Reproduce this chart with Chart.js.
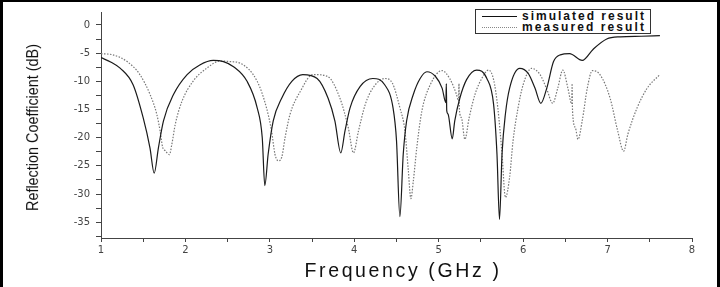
<!DOCTYPE html>
<html>
<head>
<meta charset="utf-8">
<script src="https://cdn.jsdelivr.net/npm/chart.js@4/dist/chart.umd.min.js"></script>
<style>
  html, body { margin: 0; padding: 0; background: #fff; }
  #wrap { position: relative; width: 720px; height: 287px; overflow: hidden; }
  #c { position: absolute; left: 0; top: 0; }
  #frame { position: absolute; left: 0; top: 0; width: 720px; height: 287px; box-sizing: border-box;
           border-top: 2px solid #000; border-left: 3px solid #000; border-right: 3px solid #000; pointer-events: none; }
  #legend { position: absolute; left: 475px; top: 9px; width: 176px; height: 25px; box-sizing: border-box;
            border: 1px solid #333; background: #fff; font-family: "Liberation Sans", Arial, sans-serif;
            font-weight: bold; font-size: 12px; color: #111; }
  .sample { position: absolute; left: 6px; width: 35px; height: 0; }
  .txt { position: absolute; left: 46px; line-height: 12px; white-space: nowrap; }
  #ytitle { position: absolute; left: 33px; top: 127px; font-family: "Liberation Sans", Arial, sans-serif;
            font-size: 17px; line-height: 17px; color: #111; white-space: nowrap; }
  #xtitle { position: absolute; top: 261px; font-family: "Liberation Sans", Arial, sans-serif;
            font-size: 19.5px; line-height: 19.5px; color: #111; white-space: nowrap; }
</style>
</head>
<body>
<div id="wrap">
  <canvas id="c" width="720" height="287"></canvas>
  <div id="legend">
    <span class="sample" style="top:6px;border-top:1px solid #111"></span><span class="txt" id="l1" style="top:0px">simulated result</span>
    <span class="sample" style="top:17px;border-top:1px dotted #888"></span><span class="txt" id="l2" style="top:11px">measured result</span>
  </div>
  <div id="ytitle">Reflection Coefficient (dB)</div>
  <div id="xtitle">Frequency (GHz )</div>
  <div id="frame"></div>
</div>
<script>
// ---- data ----
const simFreq = [1.00, 1.12, 1.23, 1.38, 1.50, 1.58, 1.63, 1.68, 1.74, 1.86, 2.02, 2.17, 2.33,
  2.45, 2.57, 2.73, 2.85, 2.91, 2.94, 2.98, 3.04, 3.14, 3.26, 3.39, 3.56, 3.69, 3.77, 3.84,
  3.89, 3.95, 4.07, 4.22, 4.36, 4.46, 4.50, 4.54, 4.58, 4.62, 4.70, 4.78, 4.86, 4.96, 5.04,
  5.085, 5.090, 5.095, 5.11, 5.16, 5.19, 5.25, 5.33, 5.45, 5.57, 5.65, 5.69, 5.72, 5.75, 5.79,
  5.84, 5.96, 6.06, 6.14, 6.21, 6.28, 6.36, 6.44, 6.55, 6.70, 6.83, 6.99, 7.15, 7.40, 7.62];
const simDb = [-5.8, -6.6, -7.7, -10.6, -16.5, -21.8, -26.3, -21.8, -17.0, -12.3, -8.8, -7.1, -6.3,
  -6.5, -7.4, -10.0, -14.7, -20.0, -28.5, -22.9, -17.0, -13.0, -10.0, -8.8, -9.5, -13.0, -17.0, -22.7,
  -18.8, -14.7, -10.9, -9.5, -10.6, -14.8, -20.5, -34.0, -22.9, -17.0, -12.3, -9.5, -8.3, -9.1, -11.2,
  -13.8, -10.4, -15.2, -15.8, -20.2, -17.0, -13.0, -9.7, -8.0, -9.5, -14.1, -22.9, -34.5, -22.9, -15.8,
  -11.2, -7.7, -8.6, -11.2, -13.9, -11.2, -6.5, -5.3, -5.1, -6.3, -4.3, -2.5, -2.1, -2.0, -1.9];

const measFreq = [1.00, 1.14, 1.31, 1.46, 1.58, 1.66, 1.70, 1.73, 1.76, 1.81, 1.84, 1.88, 1.96,
  2.09, 2.25, 2.41, 2.53, 2.65, 2.85, 2.96, 3.02, 3.06, 3.10, 3.14, 3.18, 3.24, 3.36, 3.51,
  3.68, 3.83, 3.93, 3.99, 4.05, 4.13, 4.22, 4.36, 4.45, 4.54, 4.60, 4.64, 4.67, 4.70, 4.74,
  4.80, 4.90, 5.04, 5.13, 5.21, 5.235, 5.240, 5.245, 5.27, 5.31, 5.36, 5.43, 5.51, 5.59, 5.65,
  5.70, 5.75, 5.79, 5.84, 5.88, 5.94, 6.00, 6.10, 6.20, 6.28, 6.35, 6.41, 6.47, 6.53, 6.575,
  6.580, 6.585, 6.62, 6.65, 6.70, 6.76, 6.82, 6.91, 7.03, 7.12, 7.19, 7.24, 7.35, 7.47, 7.62];
const measDb = [-5.1, -5.3, -6.5, -8.8, -12.3, -15.8, -18.8, -21.7, -22.3, -23.0, -21.1, -17.6, -13.5,
  -10.0, -7.7, -6.4, -6.5, -6.8, -10.0, -14.7, -18.8, -22.9, -24.1, -23.5, -20.0, -15.8, -11.8, -8.8,
  -9.1, -13.0, -18.3, -22.7, -18.8, -14.1, -11.2, -9.5, -10.3, -14.7, -18.8, -25.8, -30.8, -27.6, -21.8,
  -15.3, -10.6, -8.1, -9.5, -12.3, -13.5, -10.4, -15.0, -16.5, -20.3, -16.5, -12.3, -9.5, -8.0, -9.7,
  -14.7, -22.9, -30.6, -27.0, -20.6, -14.7, -10.6, -7.7, -8.8, -11.4, -13.9, -11.2, -8.0, -11.2, -14.0,
  -10.4, -15.3, -18.3, -20.3, -17.0, -11.2, -8.1, -8.8, -13.0, -18.8, -22.4, -19.4, -14.7, -11.2, -8.8];

const xTickValues = [1, 1.5, 2, 2.5, 3, 3.5, 4, 4.5, 5, 5.5, 6, 6.5, 7, 7.5, 8];
const yTickValues = [-37.5, -35, -32.5, -30, -27.5, -25, -22.5, -20, -17.5, -15, -12.5, -10, -7.5, -5, -2.5, 0];
const xMin = 1, xMax = 8, yMin = -37.8, yMax = 2.3;

const toPts = (xs, ys) => xs.map((x, i) => ({ x: x, y: ys[i] }));

new Chart(document.getElementById('c'), {
  type: 'line',
  data: {
    datasets: [
      { label: 'simulated result', data: toPts(simFreq, simDb), borderColor: '#1a1a1a', borderWidth: 1.2,
        pointRadius: 0, cubicInterpolationMode: 'monotone', fill: false },
      { label: 'measured result', data: toPts(measFreq, measDb), borderColor: '#777', borderWidth: 1.2,
        borderDash: [1.5, 1.5], pointRadius: 0, cubicInterpolationMode: 'monotone', fill: false }
    ]
  },
  options: {
    responsive: false,
    animation: false,
    layout: { padding: { top: 10, right: 28, left: 0, bottom: 0 } },
    plugins: { legend: { display: false }, tooltip: { enabled: false } },
    scales: {
      x: {
        type: 'linear', min: xMin, max: xMax,
        afterBuildTicks: s => { s.ticks = xTickValues.map(v => ({ value: v })); },
        afterFit: s => { s.height = 49; },
        grid: { display: true, drawOnChartArea: false, drawTicks: true, tickLength: 4, color: '#444' },
        border: { display: true, color: '#444', width: 1 },
        ticks: { padding: 2, color: '#444', maxRotation: 0, autoSkip: false,
                 font: { family: 'DejaVu Sans', size: 10 },
                 callback: v => (Number.isInteger(v) ? String(v) : '') },
        title: { display: false }
      },
      y: {
        type: 'linear', min: yMin, max: yMax,
        afterBuildTicks: s => { s.ticks = yTickValues.map(v => ({ value: v })); },
        afterFit: s => { s.width = 101; },
        grid: { display: true, drawOnChartArea: false, drawTicks: true, tickLength: 5, color: '#444' },
        border: { display: true, color: '#444', width: 1 },
        ticks: { padding: 6, color: '#444', autoSkip: false,
                 font: { family: 'DejaVu Sans', size: 10 },
                 callback: v => (v % 5 === 0 ? String(v) : '') },
        title: { display: false }
      }
    }
  }
});

// ---- fit text widths to the reference ----
function spaceTo(el, target) {
  const n = el.textContent.length;
  el.style.letterSpacing = '0px';
  const w = el.getBoundingClientRect().width;
  el.style.letterSpacing = Math.max(0, (target - w) / n) + 'px';
}
spaceTo(document.getElementById('l1'), 124);
spaceTo(document.getElementById('l2'), 124);
const xt = document.getElementById('xtitle');
spaceTo(xt, 197);
xt.style.left = (403 - xt.getBoundingClientRect().width / 2) + 'px';
const yt = document.getElementById('ytitle');
const yw = yt.getBoundingClientRect().width, yh = yt.getBoundingClientRect().height;
yt.style.left = (33 - yw / 2) + 'px';
yt.style.top = (127 - yh / 2) + 'px';
yt.style.transform = 'rotate(-90deg) scaleX(' + (167 / yw) + ')';
</script>
</body>
</html>
